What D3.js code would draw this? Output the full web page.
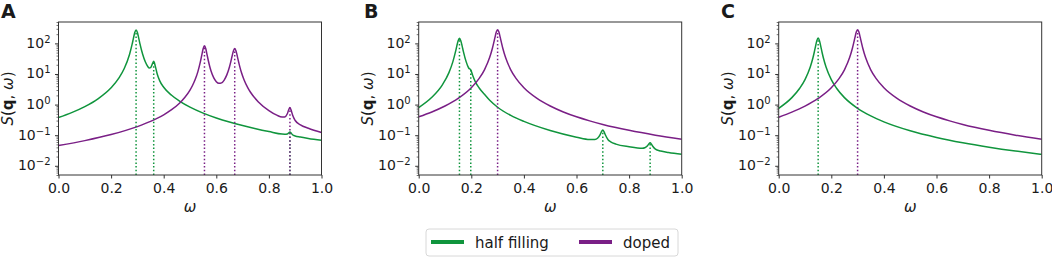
<!DOCTYPE html>
<html><head><meta charset="utf-8">
<script src="https://cdn.jsdelivr.net/npm/d3@7"></script>
<style>body{margin:0;background:#fff}svg{display:block}text{font-family:"DejaVu Sans",sans-serif;fill:#1a1a1a}</style>
</head><body><svg id="c" width="1052" height="257"></svg>
<script>
// ---- data ----
const xTicks = [0, 0.2, 0.4, 0.6, 0.8, 1.0];
const yTicks = [1e-2, 1e-1, 1, 10, 100];
const yTickExp = ["\u22122", "\u22121", "0", "1", "2"];
const seriesNames = ["half filling", "doped"];
const seriesColors = ["#10953d", "#7a1f86"];
const panelLabels = ["A", "B", "C"];

const aHalf = [[0,0.378],[0.05,0.546],[0.1,0.859],[0.15,1.545],[0.2,3.56],[0.23,7.46],[0.25,15.08],[0.27,43.4],[0.28,94.1],[0.285,148],[0.29,226],[0.295,275.6],[0.3,226],[0.305,148],[0.31,94.3],[0.32,44.0],[0.33,25.0],[0.34,17.2],[0.345,15.7],[0.35,16.1],[0.355,19.4],[0.362,26.0],[0.368,18.1],[0.375,10.2],[0.385,5.96],[0.4,3.69],[0.43,2.01],[0.46,1.30],[0.5,0.826],[0.55,0.527],[0.6,0.366],[0.65,0.269],[0.7,0.206],[0.75,0.163],[0.8,0.132],[0.85,0.109],[0.86,0.108],[0.87,0.110],[0.875,0.118],[0.88,0.128],[0.885,0.115],[0.89,0.103],[0.9,0.094],[0.92,0.087],[0.95,0.0783],[1.0,0.068]];
const aDoped = [[0,0.046],[0.1,0.0665],[0.2,0.1048],[0.3,0.191],[0.35,0.282],[0.4,0.463],[0.43,0.68],[0.46,1.11],[0.48,1.70],[0.5,2.98],[0.51,4.28],[0.52,6.70],[0.53,11.98],[0.54,26.2],[0.545,42.1],[0.55,66.7],[0.555,83.0],[0.56,66.8],[0.565,42.3],[0.57,26.5],[0.575,17.6],[0.58,12.6],[0.59,7.62],[0.6,5.62],[0.61,4.94],[0.62,5.14],[0.63,6.34],[0.64,9.34],[0.65,16.9],[0.655,24.8],[0.66,38.1],[0.665,56.7],[0.67,67.8],[0.675,56.6],[0.68,37.8],[0.685,24.5],[0.69,16.5],[0.695,11.6],[0.705,6.59],[0.72,3.51],[0.73,2.53],[0.76,1.22],[0.8,0.638],[0.83,0.451],[0.85,0.39],[0.86,0.395],[0.87,0.501],[0.875,0.663],[0.88,0.80],[0.885,0.64],[0.89,0.455],[0.9,0.302],[0.92,0.218],[0.95,0.168],[1.0,0.122]];
const bHalf = [[0,0.80],[0.05,1.73],[0.09,4.42],[0.115,11.1],[0.13,25.4],[0.14,53.8],[0.145,82.8],[0.15,122.4],[0.155,146],[0.16,122.4],[0.165,82.9],[0.17,54.0],[0.18,25.8],[0.19,15.7],[0.198,13.7],[0.205,9.09],[0.215,5.63],[0.23,3.49],[0.25,2.16],[0.27,1.38],[0.3,0.82],[0.35,0.443],[0.4,0.282],[0.5,0.142],[0.6,0.0862],[0.65,0.0724],[0.67,0.0727],[0.68,0.0793],[0.69,0.104],[0.695,0.130],[0.7,0.147],[0.705,0.128],[0.71,0.101],[0.72,0.071],[0.73,0.061],[0.75,0.0512],[0.8,0.0419],[0.85,0.0374],[0.86,0.0388],[0.87,0.0451],[0.875,0.0519],[0.88,0.0561],[0.885,0.051],[0.89,0.0435],[0.9,0.0352],[0.92,0.0303],[0.95,0.027],[1.0,0.0237]];
const bDoped = [[0,0.399],[0.05,0.575],[0.1,0.897],[0.15,1.59],[0.2,3.55],[0.23,7.16],[0.25,13.7],[0.27,35.0],[0.28,68.1],[0.285,102],[0.29,157],[0.295,234],[0.3,280],[0.305,234],[0.31,157],[0.315,102],[0.32,68.1],[0.33,35.0],[0.35,13.7],[0.37,7.16],[0.4,3.55],[0.45,1.59],[0.5,0.897],[0.55,0.575],[0.6,0.399],[0.65,0.294],[0.7,0.225],[0.8,0.144],[0.9,0.0999],[1.0,0.0735]];
const cHalf = [[0,0.756],[0.05,1.69],[0.08,3.41],[0.1,6.54],[0.12,16.9],[0.13,33.3],[0.135,50.4],[0.14,79.9],[0.145,123],[0.15,150],[0.155,123],[0.16,79.9],[0.165,50.4],[0.17,33.3],[0.18,16.9],[0.2,6.54],[0.22,3.41],[0.25,1.69],[0.3,0.756],[0.35,0.426],[0.4,0.273],[0.5,0.1395],[0.6,0.0844],[0.7,0.0565],[0.8,0.0405],[0.9,0.0304],[1.0,0.0237]];
const cDoped = [[0,0.385],[0.05,0.565],[0.1,0.89],[0.15,1.59],[0.2,3.55],[0.23,7.16],[0.25,13.7],[0.27,35.0],[0.28,68.1],[0.285,102],[0.29,157],[0.295,234],[0.3,280],[0.305,234],[0.31,157],[0.315,102],[0.32,68.1],[0.33,35.0],[0.35,13.7],[0.37,7.16],[0.4,3.55],[0.45,1.59],[0.5,0.897],[0.55,0.575],[0.6,0.399],[0.65,0.294],[0.7,0.225],[0.8,0.144],[0.9,0.0999],[1.0,0.0735]];

const aHalfPeaks = [0.295, 0.362, 0.88];
const aDopedPeaks = [0.555, 0.67, 0.88];
const bHalfPeaks = [0.155, 0.198, 0.70, 0.88];
const bDopedPeaks = [0.3];
const cHalfPeaks = [0.15];
const cDopedPeaks = [0.3];

const panels = [
  {series:[aHalf, aDoped], peaks:[aHalfPeaks, aDopedPeaks]},
  {series:[bHalf, bDoped], peaks:[bHalfPeaks, bDopedPeaks]},
  {series:[cHalf, cDoped], peaks:[cHalfPeaks, cDopedPeaks]}
];

// ---- layout ----
const svg = d3.select("#c");
const lefts = [58.5, 418.7, 778.7];
const labelX = [1, 364, 721];
const plotTop = 22, W = 263, H = 153;
const yMin = 0.005, yMax = 500;
const axisColor = "#333";

const minorTicks = [];
for (let e = -3; e <= 2; e++) for (let m = 2; m <= 9; m++) {
  const v = m * Math.pow(10, e);
  if (v >= yMin && v <= yMax) minorTicks.push(v);
}

panels.forEach((p, i) => {
  const g = svg.append("g").attr("transform", `translate(${lefts[i]},${plotTop})`);
  const x = d3.scaleLinear().domain([0, 1]).range([0, W]);
  const y = d3.scaleLog().domain([yMin, yMax]).range([H, 0]);

  const clipId = "clip" + i;
  g.append("clipPath").attr("id", clipId).append("rect").attr("width", W).attr("height", H);
  const plot = g.append("g").attr("clip-path", `url(#${clipId})`);

  const line = d3.line().x(d => x(d[0])).y(d => y(d[1])).curve(d3.curveMonotoneX);
  p.series.forEach((s, k) => {
    plot.append("path").datum(s).attr("d", line)
      .attr("fill", "none").attr("stroke", seriesColors[k]).attr("stroke-width", 1.5);
  });
  p.peaks.forEach((pk, k) => {
    const s = p.series[k];
    pk.forEach(w => {
      const pt = s.reduce((a, b) => Math.abs(b[0] - w) < Math.abs(a[0] - w) ? b : a);
      plot.append("line")
        .attr("x1", x(pt[0])).attr("x2", x(pt[0]))
        .attr("y1", y(yMin)).attr("y2", y(pt[1]))
        .attr("stroke", seriesColors[k]).attr("stroke-width", 1.5)
        .attr("stroke-dasharray", "1.5,2.2");
    });
  });

  // x axis
  const xa = g.append("g").attr("transform", `translate(0,${H})`)
    .call(d3.axisBottom(x).tickValues(xTicks).tickFormat(d3.format(".1f")).tickSize(3.5).tickPadding(4.5));
  xa.select(".domain").remove();
  xa.selectAll("line").attr("stroke", axisColor);
  xa.selectAll("text").attr("font-size", 14).attr("font-family", "DejaVu Sans").attr("fill", "#1a1a1a");

  // y axis major
  const ya = g.append("g")
    .call(d3.axisLeft(y).tickValues(yTicks).tickFormat("").tickSize(3.5));
  ya.select(".domain").remove();
  ya.selectAll("line").attr("stroke", axisColor);
  const ym = g.append("g")
    .call(d3.axisLeft(y).tickValues(minorTicks).tickFormat("").tickSize(2));
  ym.select(".domain").remove();
  ym.selectAll("line").attr("stroke", axisColor).attr("stroke-width", 0.7);

  yTicks.forEach((v, k) => {
    const t = g.append("text").attr("x", -8).attr("y", y(v) + 4.5)
      .attr("text-anchor", "end").attr("font-size", 14);
    t.append("tspan").text("10");
    t.append("tspan").attr("dy", -5).attr("font-size", 10).text(yTickExp[k]);
  });

  // frame
  g.append("rect").attr("width", W).attr("height", H)
    .attr("fill", "none").attr("stroke", axisColor).attr("stroke-width", 1);

  // axis labels
  g.append("text").attr("x", W / 2).attr("y", 212 - plotTop).attr("text-anchor", "middle")
    .attr("font-size", 15).attr("font-style", "italic").text("\u03c9");
  const yl = svg.append("text")
    .attr("transform", `translate(${lefts[i] - 45.5},${plotTop + H / 2}) rotate(-90)`)
    .attr("text-anchor", "middle").attr("font-size", 15);
  yl.append("tspan").attr("font-style", "italic").text("S");
  yl.append("tspan").text("(");
  yl.append("tspan").attr("font-weight", "bold").text("q");
  yl.append("tspan").text(", ");
  yl.append("tspan").attr("font-style", "italic").text("\u03c9");
  yl.append("tspan").text(")");

  svg.append("text").attr("x", labelX[i]).attr("y", 17.5)
    .attr("font-family", "Liberation Sans, Arial, sans-serif").attr("font-weight", "bold")
    .attr("font-size", 19).attr("fill", "#000").text(panelLabels[i]);
});

// legend
const lg = svg.append("g");
lg.append("rect").attr("x", 426).attr("y", 229).attr("width", 252).attr("height", 27).attr("rx", 3)
  .attr("fill", "#fff").attr("stroke", "#d8d8d8").attr("stroke-width", 1);
const legX = [431, 579];
seriesNames.forEach((n, k) => {
  lg.append("line").attr("x1", legX[k]).attr("x2", legX[k] + 33).attr("y1", 242).attr("y2", 242)
    .attr("stroke", seriesColors[k]).attr("stroke-width", 4);
  lg.append("text").attr("x", legX[k] + 44).attr("y", 247.5).attr("font-size", 15).text(n);
});
</script></body></html>
